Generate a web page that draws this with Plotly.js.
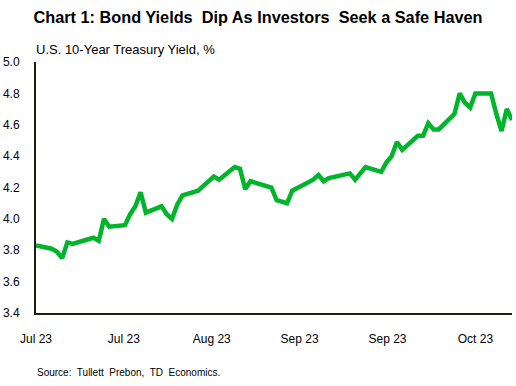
<!DOCTYPE html>
<html>
<head>
<meta charset="utf-8">
<script src="https://cdn.plot.ly/plotly-3.0.1.min.js"></script>
<style>html,body{margin:0;padding:0;background:#fff;}#chart{width:516px;height:386px;}</style>
</head>
<body>
<div id="chart"></div>
<script>
const dates = [
 "2023-07-14","2023-07-17","2023-07-18","2023-07-19","2023-07-20","2023-07-21",
 "2023-07-24","2023-07-25","2023-07-26","2023-07-27","2023-07-28","2023-07-31",
 "2023-08-01","2023-08-02","2023-08-03","2023-08-04","2023-08-07","2023-08-08",
 "2023-08-09","2023-08-10","2023-08-11","2023-08-14","2023-08-15","2023-08-16",
 "2023-08-17","2023-08-18","2023-08-21","2023-08-22","2023-08-23","2023-08-24",
 "2023-08-25","2023-08-28","2023-08-29","2023-08-30","2023-08-31","2023-09-01",
 "2023-09-05","2023-09-06","2023-09-07","2023-09-08","2023-09-11","2023-09-12",
 "2023-09-13","2023-09-14","2023-09-15","2023-09-18","2023-09-19","2023-09-20",
 "2023-09-21","2023-09-22","2023-09-25","2023-09-26","2023-09-27","2023-09-28",
 "2023-09-29","2023-10-02","2023-10-03","2023-10-04","2023-10-05","2023-10-06",
 "2023-10-09","2023-10-10","2023-10-11","2023-10-12","2023-10-13"
];
const yields = [
 3.83,3.81,3.79,3.75,3.85,3.84,
 3.87,3.88,3.86,4.00,3.95,3.96,
 4.03,4.08,4.17,4.04,4.08,4.03,
 4.00,4.09,4.15,4.18,4.21,4.24,
 4.27,4.25,4.33,4.32,4.19,4.24,
 4.23,4.20,4.12,4.11,4.10,4.18,
 4.25,4.28,4.24,4.26,4.28,4.29,
 4.25,4.29,4.33,4.30,4.36,4.40,
 4.49,4.44,4.53,4.53,4.61,4.57,
 4.57,4.67,4.80,4.74,4.71,4.80,
 4.80,4.67,4.56,4.70,4.63
];
const titleText = "Chart 1: Bond Yields  Dip As Investors  Seek a Safe Haven";
const subtitleText = "U.S. 10-Year Treasury Yield, %";
const sourceText = "Source:  Tullett  Prebon,  TD  Economics.";

const font = "Liberation Sans, Arial, sans-serif";
const trace = {
  x: dates, y: yields, type: "scatter", mode: "lines",
  line: {color: "#00B52B", width: 4.5, shape: "linear"},
  hoverinfo: "skip"
};
const layout = {
  width: 516, height: 386,
  margin: {l: 36, r: 4, t: 62, b: 73},
  paper_bgcolor: "#ffffff", plot_bgcolor: "#ffffff",
  showlegend: false,
  font: {family: font, color: "#000", size: 12},
  title: {text: "<b>" + titleText + "</b>", font: {family: font, size: 16.3, color: "#000"},
          x: 0.5, xanchor: "center", xref: "container", y: 1 - 17/386, yanchor: "middle", yref: "container"},
  xaxis: {
    type: "date",
    range: ["2023-07-14", "2023-10-13"],
    tick0: "2023-07-14",
    dtick: 16.8 * 86400000,
    tickformat: "%b %y",
    showgrid: false, zeroline: false,
    showline: true, linecolor: "#1e1e10", linewidth: 2,
    ticks: "", ticklabelstandoff: 14,
    tickfont: {family: font, size: 12, color: "#000"}
  },
  yaxis: {
    range: [3.4, 5.0],
    dtick: 0.2, tick0: 3.4,
    tickformat: ".1f",
    showgrid: false, zeroline: false,
    showline: true, linecolor: "#1e1e10", linewidth: 2,
    ticks: "", ticklabelstandoff: 12,
    tickfont: {family: font, size: 12, color: "#000"}
  },
  annotations: [
    {text: subtitleText, xref: "paper", yref: "paper", x: 0, y: 1, xshift: -2, yshift: 13,
     xanchor: "left", yanchor: "middle", showarrow: false,
     font: {family: font, size: 13, color: "#000"}},
    {text: sourceText, xref: "paper", yref: "paper", x: 0, y: 0, yshift: -59, xshift: -1,
     xanchor: "left", yanchor: "middle", showarrow: false,
     font: {family: font, size: 10, color: "#000"}}
  ]
};
Plotly.newPlot("chart", [trace], layout, {displayModeBar: false, staticPlot: true});
</script>
</body>
</html>
